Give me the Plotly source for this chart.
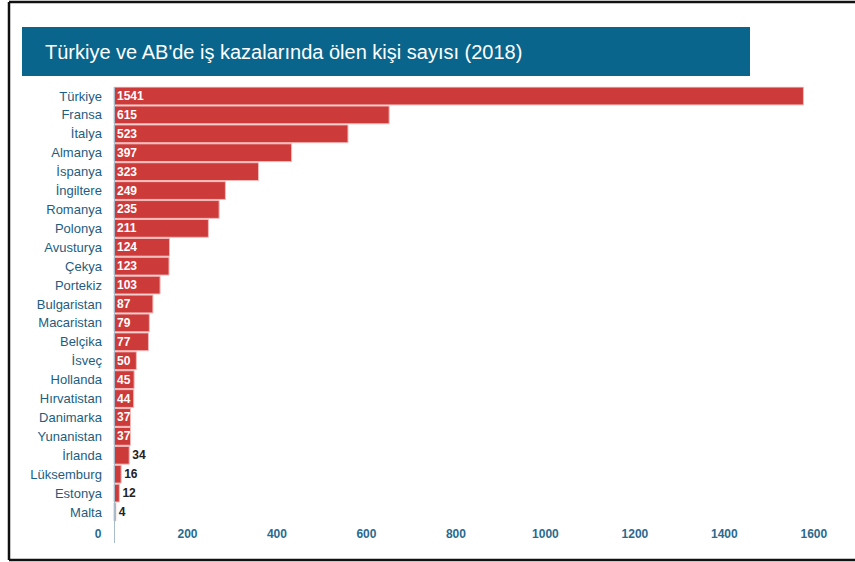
import plotly.graph_objects as go

countries = ["Türkiye", "Fransa", "İtalya", "Almanya", "İspanya", "İngiltere", "Romanya",
             "Polonya", "Avusturya", "Çekya", "Portekiz", "Bulgaristan", "Macaristan",
             "Belçika", "İsveç", "Hollanda", "Hırvatistan", "Danimarka", "Yunanistan",
             "İrlanda", "Lüksemburg", "Estonya", "Malta"]
deaths = [1541, 615, 523, 397, 323, 249, 235, 211, 124, 123, 103, 87, 79, 77, 50, 45, 44,
          37, 37, 34, 16, 12, 4]
tick_vals = [0, 200, 400, 600, 800, 1000, 1200, 1400, 1600]
title_text = "Türkiye ve AB'de iş kazalarında ölen kişi sayısı (2018)"

W, H = 855, 562
FONT = "Liberation Sans, Arial, sans-serif"

def px_x(p):
    return p / W

def px_y(p):
    return 1 - p / H

text_pos = ["inside" if v >= 37 else "outside" for v in deaths]

fig = go.Figure()
fig.add_trace(go.Bar(
    x=deaths, y=countries, orientation="h",
    marker=dict(color="#cc3a3a", line=dict(color="#f2b9b9", width=1)),
    text=[str(v) for v in deaths], textposition=text_pos, textangle=0,
    insidetextanchor="start", constraintext="none", cliponaxis=False,
    insidetextfont=dict(color="white", size=12, family=FONT),
    outsidetextfont=dict(color="#222222", size=12, family=FONT),
    texttemplate="<b>%{text}</b>",
    hoverinfo="skip", showlegend=False,
))

scale = 0.4474           # px per unit
zero_px, left_px, right_px = 114, 92, 830
cat_px = (512 - 96) / (len(countries) - 1)
top_px, bot_px = 96 - cat_px / 2, 543
span = (bot_px - top_px) / cat_px

fig.update_layout(
    width=W, height=H,
    margin=dict(l=0, r=0, t=0, b=0),
    paper_bgcolor="white", plot_bgcolor="white",
    bargap=0.06,
    xaxis=dict(domain=[px_x(left_px), px_x(right_px)],
               range=[-(zero_px - left_px) / scale, (right_px - zero_px) / scale],
               tickvals=tick_vals, ticktext=["<b>%d</b>" % t for t in tick_vals],
               ticklabelposition="inside", ticklabelshift=-16,
               tickfont=dict(family=FONT, size=12, color="#2a6a8e"),
               showgrid=False, zeroline=False, showline=False, ticks=""),
    yaxis=dict(domain=[px_y(bot_px), px_y(top_px)], range=[span - 0.5, -0.5],
               anchor="free", position=px_x(zero_px - 0.5),
               showgrid=False, zeroline=False, showline=True, linecolor="#a9bccb",
               linewidth=1, ticks="", ticklabelstandoff=9,
               tickfont=dict(family=FONT, size=13, color="#1d5d80")),
    shapes=[
        dict(type="rect", xref="paper", yref="paper", x0=px_x(22), x1=px_x(750),
             y0=px_y(76), y1=px_y(27), fillcolor="#09658c", line=dict(width=0), layer="below"),
        dict(type="line", xref="paper", yref="paper", x0=px_x(9), x1=1.0, y0=px_y(2), y1=px_y(2),
             line=dict(color="#111111", width=2.5)),
        dict(type="line", xref="paper", yref="paper", x0=px_x(9), x1=px_x(9), y0=px_y(2), y1=px_y(560),
             line=dict(color="#111111", width=2.5)),
        dict(type="line", xref="paper", yref="paper", x0=px_x(9), x1=1.0, y0=px_y(560), y1=px_y(560),
             line=dict(color="#111111", width=2.5)),
    ],
    annotations=[
        dict(text=title_text, xref="paper", yref="paper", x=px_x(43), y=px_y(52),
             xanchor="left", yanchor="middle", showarrow=False,
             font=dict(family=FONT, size=20, color="white")),
    ],
)

fig.write_html("out.html")
